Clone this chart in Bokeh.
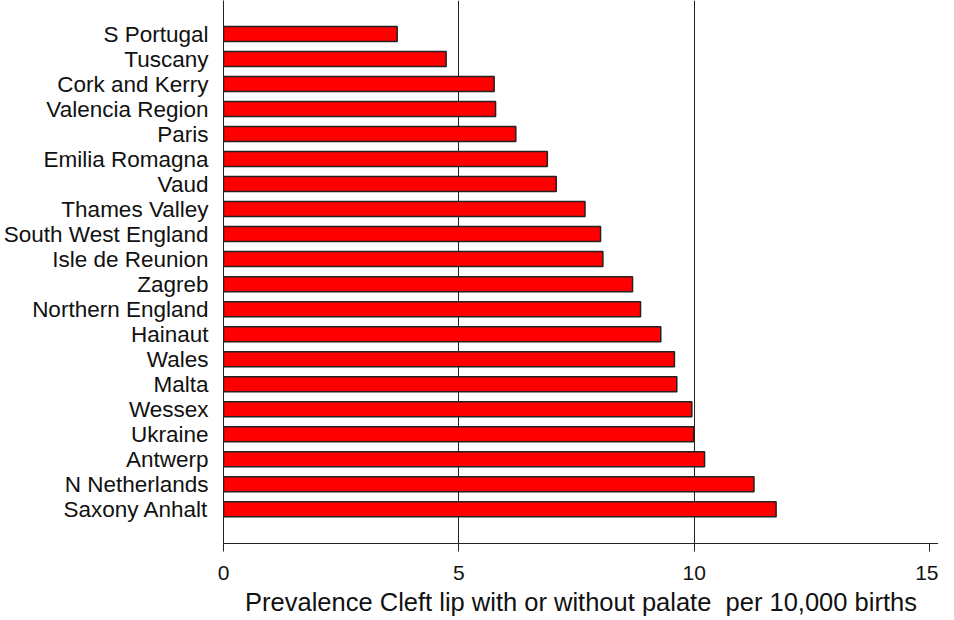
from bokeh.plotting import figure
from bokeh.models import Range1d, FixedTicker, ColumnDataSource
from bokeh.embed import file_html
from bokeh.resources import INLINE

regions = ["S Portugal", "Tuscany", "Cork and Kerry", "Valencia Region", "Paris",
           "Emilia Romagna", "Vaud", "Thames Valley", "South West England",
           "Isle de Reunion", "Zagreb", "Northern England", "Hainaut", "Wales",
           "Malta", "Wessex", "Ukraine", "Antwerp", "N Netherlands", "Saxony Anhalt"]
prevalence = [3.69, 4.73, 5.75, 5.78, 6.21, 6.88, 7.07, 7.68, 8.01, 8.06,
              8.69, 8.86, 9.29, 9.58, 9.63, 9.95, 9.99, 10.22, 11.27, 11.74]
x_ticks = [0, 5, 10, 15]
x_label = "Prevalence Cleft lip with or without palate\u00a0 per 10,000 births"

FONT = "Liberation Sans"
pos = list(range(len(regions)))
src = ColumnDataSource(dict(y=pos, right=prevalence))

W, H = 938, 618
p = figure(width=W, height=H, output_backend="svg", toolbar_location=None,
           x_range=Range1d(0, 15.19),
           y_range=Range1d(20.37, -1.34),
           min_border_left=214, min_border_right=0, min_border_top=0,
           min_border_bottom=73)
p.outline_line_color = None
p.background_fill_color = "white"
p.border_fill_color = "white"

p.hbar(y="y", left=0, right="right", height=0.6, source=src,
       fill_color="#FF0000", line_color="#222222", line_width=1.5)

p.xaxis.ticker = FixedTicker(ticks=x_ticks)
p.xaxis.axis_label = x_label
p.xaxis.axis_label_text_font = FONT
p.xaxis.axis_label_text_font_style = "normal"
p.xaxis.axis_label_text_font_size = "25.5px"
p.xaxis.axis_label_text_color = "#111111"
p.xaxis.axis_label_standoff = 5
p.xaxis.major_label_text_font = FONT
p.xaxis.major_label_text_font_size = "21px"
p.xaxis.major_label_text_color = "#111111"
p.xaxis.major_label_standoff = 14
p.xaxis.axis_line_color = "#222222"
p.xaxis.major_tick_line_color = "#222222"
p.xaxis.major_tick_out = 8
p.xaxis.major_tick_in = 0
p.xaxis.minor_tick_line_color = None

p.yaxis.ticker = FixedTicker(ticks=pos)
p.yaxis.major_label_overrides = {i: r for i, r in enumerate(regions)}
p.yaxis.major_label_text_font = FONT
p.yaxis.major_label_text_font_size = "22.5px"
p.yaxis.major_label_text_color = "#111111"
p.yaxis.major_label_standoff = 9
p.yaxis.major_tick_line_color = None
p.yaxis.minor_tick_line_color = None
p.yaxis.axis_line_color = "#222222"

p.ygrid.grid_line_color = None
p.xgrid.ticker = FixedTicker(ticks=[5, 10])
p.xgrid.grid_line_color = "#222222"
p.xgrid.grid_line_width = 1

open("out.html", "w").write(file_html(p, INLINE))
